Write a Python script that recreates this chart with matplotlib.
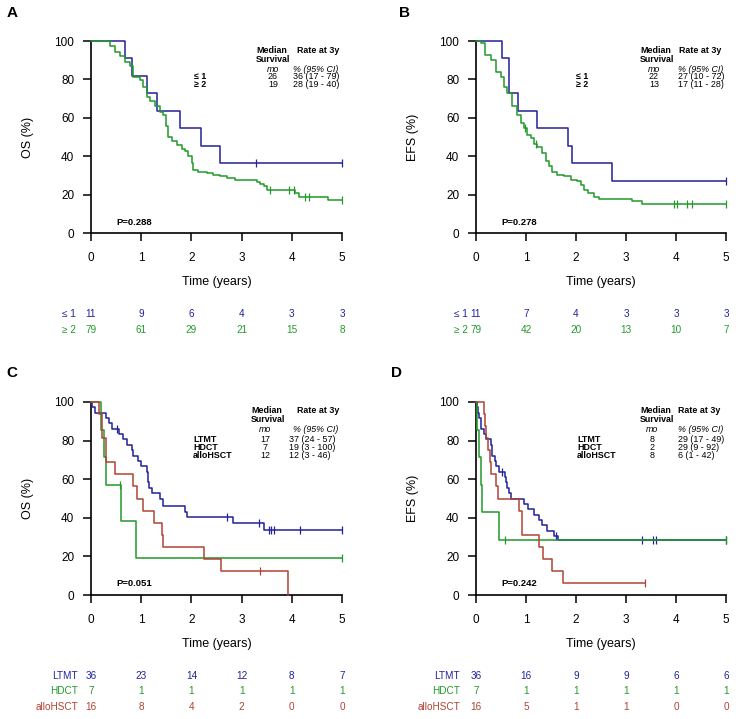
import matplotlib
matplotlib.use("Agg")
import matplotlib.pyplot as plt
from matplotlib.transforms import blended_transform_factory
import bisect

plt.rcParams['font.family'] = ['Liberation Sans', 'DejaVu Sans']

BLUE = '#22229a'
GREEN = '#22992a'
RED = '#b04333'

# ---------------- data ----------------
# Panel A (OS, prior lines)
A_le1_t = [0, 0.68, 0.82, 1.11, 1.31, 1.78, 2.19, 2.57]
A_le1_s = [100, 90.9, 81.8, 72.7, 63.6, 54.5, 45.5, 36.4]
A_le1_c = [3.28, 5.0]
A_ge2_t = [0, 0.38, 0.48, 0.58, 0.68, 0.78, 0.84, 0.98, 1.04, 1.11, 1.18, 1.28, 1.38, 1.44, 1.49,
           1.54, 1.61, 1.71, 1.81, 1.87, 1.94, 2.01, 2.04, 2.14, 2.31, 2.44, 2.57, 2.71, 2.87,
           3.30, 3.37, 3.44, 3.50, 4.07, 4.14, 4.73]
A_ge2_s = [100, 97.5, 94.5, 92, 89, 87, 81.5, 79.7, 76, 71, 68.5, 66, 63, 61.5, 55.5,
           50, 47.7, 46, 44, 42.5, 40, 36.4, 33, 32, 31.2, 30.3, 29.5, 28.6, 27.7,
           26.5, 25.5, 24.3, 22.5, 21, 19, 17.3]
A_ge2_c = [3.57, 3.94, 4.04, 4.27, 4.34, 5.0]

# Panel B (EFS, prior lines)
B_le1_t = [0, 0.52, 0.65, 0.83, 1.22, 1.83, 1.92, 2.71]
B_le1_s = [100, 90.9, 72.7, 63.6, 54.5, 45.5, 36.4, 27.3]
B_le1_c = [5.0]
B_ge2_t = [0, 0.09, 0.17, 0.29, 0.39, 0.49, 0.55, 0.62, 0.72, 0.82, 0.89, 0.96, 1.02, 1.09, 1.15,
           1.22, 1.32, 1.39, 1.45, 1.52, 1.62, 1.75, 1.89, 2.02, 2.09, 2.15, 2.24, 2.35, 2.45,
           3.12, 3.32]
B_ge2_s = [100, 98.7, 92.7, 90, 84, 81.5, 76, 72.7, 65.9, 61.5, 57.2, 54.6, 51, 49.4, 46.5,
           45, 41.6, 37.3, 34.7, 32, 30.3, 29.5, 27.7, 26.9, 25.1, 22.5, 20.8, 19, 17.7,
           16.5, 15]
B_ge2_c = [0.98, 1.19, 3.95, 4.02, 4.22, 4.32, 5.0]

# Panel C (OS, treatment)
C_ltmt_t = [0, 0.01, 0.08, 0.30, 0.35, 0.41, 0.55, 0.64, 0.71, 0.81, 0.84, 0.94, 1.00, 1.11,
            1.13, 1.16, 1.21, 1.38, 1.44, 1.88, 1.91, 2.83, 3.44]
C_ltmt_s = [100, 97.2, 94.4, 91.7, 88.9, 86.1, 83.3, 80.6, 77.8, 75.0, 72.2, 69.4, 66.7, 63.9,
            58.3, 55.6, 52.8, 50.0, 46.0, 43.0, 40.2, 37.1, 33.7]
C_ltmt_c = [0.51, 2.71, 3.34, 3.54, 3.58, 3.64, 4.17, 5.0]
C_hdct_t = [0, 0.20, 0.25, 0.30, 0.60, 0.90]
C_hdct_s = [100, 85.7, 71.4, 57.1, 38.1, 19.0]
C_hdct_c = [0.57, 5.0]
C_allo_t = [0, 0.15, 0.21, 0.30, 0.48, 0.84, 0.91, 1.03, 1.26, 1.41, 1.44, 2.25, 2.59, 3.92]
C_allo_s = [100, 93.75, 81.25, 68.75, 62.5, 56.25, 50, 43.75, 37.5, 31.25, 25, 18.75, 12.5, 0]
C_allo_c = [3.37]

# Panel D (EFS, treatment)
D_ltmt_t = [0, 0.01, 0.03, 0.05, 0.09, 0.15, 0.19, 0.29, 0.32, 0.37, 0.40, 0.45, 0.57, 0.59,
            0.62, 0.65, 0.69, 0.95, 1.04, 1.15, 1.25, 1.31, 1.42, 1.55, 1.63]
D_ltmt_s = [100, 97.2, 94.4, 91.7, 86.1, 83.3, 80.6, 77.8, 72.2, 69.4, 66.7, 63.9, 61.1, 58.3,
            55.6, 52.8, 50.0, 47.2, 44.4, 41.7, 38.9, 36.1, 33.3, 30.6, 28.6]
D_ltmt_c = [0.52, 1.59, 3.32, 3.54, 3.60, 5.0]
D_hdct_t = [0, 0.02, 0.05, 0.09, 0.12, 0.45]
D_hdct_s = [100, 85.7, 71.4, 57.1, 42.9, 28.6]
D_hdct_c = [0.57, 5.0]
D_allo_t = [0, 0.15, 0.17, 0.19, 0.24, 0.27, 0.30, 0.39, 0.44, 0.85, 0.91, 1.25, 1.33, 1.51, 1.73]
D_allo_s = [100, 93.75, 87.5, 81.25, 75, 68.75, 62.5, 56.25, 50, 43.75, 31.25, 25, 18.75, 12.5, 6.25]
D_allo_c = [3.37]

# risk tables
risk_times = [0, 1, 2, 3, 4, 5]
A_risk_le1 = [11, 9, 6, 4, 3, 3]
A_risk_ge2 = [79, 61, 29, 21, 15, 8]
B_risk_le1 = [11, 7, 4, 3, 3, 3]
B_risk_ge2 = [79, 42, 20, 13, 10, 7]
C_risk_ltmt = [36, 23, 14, 12, 8, 7]
C_risk_hdct = [7, 1, 1, 1, 1, 1]
C_risk_allo = [16, 8, 4, 2, 0, 0]
D_risk_ltmt = [36, 16, 9, 9, 6, 6]
D_risk_hdct = [7, 1, 1, 1, 1, 1]
D_risk_allo = [16, 5, 1, 1, 0, 0]

# summary tables
prior_labels = ['\u2264 1', '\u2265 2']
trt_labels = ['LTMT', 'HDCT', 'alloHSCT']
A_median = ['26', '19']; A_rate = ['36 (17 - 79)', '28 (19 - 40)']
B_median = ['22', '13']; B_rate = ['27 (10 - 72)', '17 (11 - 28)']
C_median = ['17', '7', '12']; C_rate = ['37 (24 - 57)', '19 (3 - 100)', '12 (3 - 46)']
D_median = ['8', '2', '8']; D_rate = ['29 (17 - 49)', '29 (9 - 92)', '6 (1 - 42)']
pvals = ['P=0.288', 'P=0.278', 'P=0.051', 'P=0.242']

# ---------------- figure ----------------
W, H = 743, 719
fig = plt.figure(figsize=(W / 100, H / 100), dpi=100)


def px_axes(l, t, w, h):
    return fig.add_axes([l / W, 1 - (t + h) / H, w / W, h / H])


def km(ax, t, s, cens, color, end=5.0):
    ax.step(list(t) + [end], list(s) + [s[-1]], where='post', color=color, lw=1.1,
            clip_on=False, zorder=3)
    ys = [s[bisect.bisect_right(t, c) - 1] for c in cens]
    ax.plot(cens, ys, ls='none', marker='|', ms=6, mew=0.9, color=color, clip_on=False, zorder=3)


def style(ax, ylabel):
    ax.set_xlim(0, 5)
    ax.set_ylim(0, 100)
    for sp in ['top', 'right']:
        ax.spines[sp].set_visible(False)
    for sp in ['left', 'bottom']:
        ax.spines[sp].set_linewidth(1.2)
    ax.set_xticks([0, 1, 2, 3, 4, 5])
    ax.set_yticks([0, 20, 40, 60, 80, 100])
    ax.tick_params(direction='out', length=5.5, width=1.1, labelsize=8.5, colors='black')
    ax.tick_params(axis='x', pad=8.5)
    ax.tick_params(axis='y', pad=6.5)
    ax.set_xlabel('Time (years)', fontsize=9, labelpad=8)
    ax.set_ylabel(ylabel, fontsize=9)
    ax.yaxis.set_label_coords(-0.228, 0.5)


def summary(ax, labels, medians, rates, colx, ys, label_x, med_x, rate_x, head_x, ci_x):
    fs = 6.4
    ax.text(colx, ys[0], 'Median', transform=ax.transAxes, fontsize=fs, fontweight='bold', va='center')
    ax.text(colx, ys[1], 'Survival', transform=ax.transAxes, fontsize=fs, fontweight='bold', va='center')
    ax.text(head_x, ys[0], 'Rate at 3y', transform=ax.transAxes, fontsize=fs, fontweight='bold', va='center')
    ax.text(med_x, ys[2], 'mo', transform=ax.transAxes, fontsize=fs, style='italic', va='center', ha='center')
    ax.text(ci_x, ys[2], '% (95% CI)', transform=ax.transAxes, fontsize=fs, style='italic', va='center')
    for lab, m, r, y in zip(labels, medians, rates, ys[3:]):
        ax.text(label_x, y, lab, transform=ax.transAxes, fontsize=fs, fontweight='bold', va='center')
        ax.text(med_x, y, m, transform=ax.transAxes, fontsize=fs, va='center', ha='center')
        ax.text(rate_x, y, r, transform=ax.transAxes, fontsize=fs, va='center')


def risk(ax, labels, rows, colors, ypx, label_right_px):
    tr = blended_transform_factory(ax.transData, fig.transFigure)
    for lab, row, col, yp in zip(labels, rows, colors, ypx):
        y = 1 - yp / H
        fig.text(label_right_px / W, y, lab, ha='right', va='center', fontsize=7.2, color=col)
        for tt, n in zip(risk_times, row):
            ax.text(tt, y, str(n), transform=tr, ha='center', va='center', fontsize=7.2, color=col)


axA = px_axes(91, 41, 251, 192)
axB = px_axes(476, 41, 250, 192)
axC = px_axes(91, 402, 251, 193)
axD = px_axes(476, 402, 250, 193)

Y_AB = [0.950, 0.905, 0.853, 0.814, 0.772]
Y_CD = [0.955, 0.910, 0.856, 0.806, 0.765, 0.724]

# Panel A
km(axA, A_le1_t, A_le1_s, A_le1_c, BLUE)
km(axA, A_ge2_t, A_ge2_s, A_ge2_c, GREEN)
style(axA, 'OS (%)')
summary(axA, prior_labels, A_median, A_rate, 0.657, Y_AB, 0.41, 0.725, 0.805, 0.82, 0.805)
risk(axA, prior_labels, [A_risk_le1, A_risk_ge2], [BLUE, GREEN], [314, 330], 76)

# Panel B
km(axB, B_le1_t, B_le1_s, B_le1_c, BLUE)
km(axB, B_ge2_t, B_ge2_s, B_ge2_c, GREEN)
style(axB, 'EFS (%)')
summary(axB, prior_labels, B_median, B_rate, 0.656, Y_AB, 0.40, 0.712, 0.808, 0.812, 0.808)
risk(axB, prior_labels, [B_risk_le1, B_risk_ge2], [BLUE, GREEN], [314, 330], 468)

# Panel C
km(axC, C_ltmt_t, C_ltmt_s, C_ltmt_c, BLUE)
km(axC, C_hdct_t, C_hdct_s, C_hdct_c, GREEN)
km(axC, C_allo_t, C_allo_s, C_allo_c, RED, end=3.92)
style(axC, 'OS (%)')
summary(axC, trt_labels, C_median, C_rate, 0.637, Y_CD, 0.406, 0.693, 0.79, 0.82, 0.805)
risk(axC, trt_labels, [C_risk_ltmt, C_risk_hdct, C_risk_allo], [BLUE, GREEN, RED], [676, 691, 707], 78)

# Panel D
km(axD, D_ltmt_t, D_ltmt_s, D_ltmt_c, BLUE)
km(axD, D_hdct_t, D_hdct_s, D_hdct_c, GREEN)
km(axD, D_allo_t, D_allo_s, D_allo_c, RED, end=3.37)
style(axD, 'EFS (%)')
summary(axD, trt_labels, D_median, D_rate, 0.656, Y_CD, 0.404, 0.704, 0.808, 0.808, 0.808)
risk(axD, trt_labels, [D_risk_ltmt, D_risk_hdct, D_risk_allo], [BLUE, GREEN, RED], [676, 691, 707], 460)

for ax, p in zip([axA, axB, axC, axD], pvals):
    ax.text(0.10, 0.057, p, transform=ax.transAxes, fontsize=6.8, fontweight='bold', va='center')

for lab, x, y in [('A', 12, 13), ('B', 405, 13), ('C', 12, 373), ('D', 397, 373)]:
    fig.text(x / W, 1 - y / H, lab, fontsize=11, fontweight='bold', va='center', ha='center')

fig.savefig('out.png', dpi=100)
